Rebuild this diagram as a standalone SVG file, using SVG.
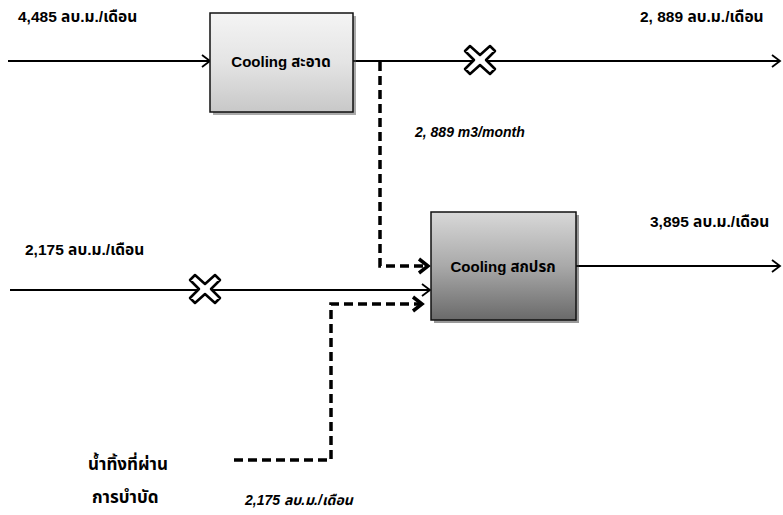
<svg xmlns="http://www.w3.org/2000/svg" width="783" height="515" viewBox="0 0 783 515">
<style>
text{font-family:"Liberation Sans","Noto Sans Thai","Noto Sans",sans-serif;font-weight:bold;font-size:15.5px;fill:#000}
.it{font-style:italic;font-size:14px}
.th{font-size:17px}
.bx{font-size:15px}
.solid{stroke:#000;stroke-width:1.8;fill:none}
.dash{stroke:#000;stroke-width:3.5;fill:none;stroke-dasharray:9 5}
.box{stroke:#111;stroke-width:1.5}
.xm{fill:#fff;stroke:#000;stroke-width:2.5;stroke-linejoin:round}
</style>
<defs>
<linearGradient id="g1" x1="0" y1="0" x2="0" y2="1">
<stop offset="0" stop-color="#f4f4f4"/><stop offset="0.5" stop-color="#e4e4e4"/><stop offset="1" stop-color="#c8c8c8"/>
</linearGradient>
<linearGradient id="g2" x1="0" y1="0" x2="0" y2="1">
<stop offset="0" stop-color="#d8d8d8"/><stop offset="0.5" stop-color="#a9a9a9"/><stop offset="1" stop-color="#6a6a6a"/>
</linearGradient>
<marker id="oa" markerWidth="12" markerHeight="14" refX="10" refY="7" orient="auto" markerUnits="userSpaceOnUse">
<path d="M2,1 L10,7 L2,13" fill="none" stroke="#000" stroke-width="1.8"/>
</marker>
<marker id="da" markerWidth="14" markerHeight="18" refX="11" refY="9" orient="auto" markerUnits="userSpaceOnUse">
<path d="M2,2 L11,9 L2,16" fill="none" stroke="#000" stroke-width="3.5"/>
</marker>
<path id="xs" d="M-10,-14 L0,-5 L10,-14 L15,-9 L6,0 L15,9 L10,14 L0,5 L-10,14 L-15,9 L-6,0 L-15,-9 Z"/>
</defs>

<g id="connectors">
<line class="solid" x1="8" y1="61" x2="210" y2="61" marker-end="url(#oa)"/>
<line class="solid" x1="353" y1="61" x2="780" y2="61" marker-end="url(#oa)"/>
<line class="solid" x1="10" y1="290" x2="430" y2="290" marker-end="url(#oa)"/>
<line class="solid" x1="576" y1="266" x2="780" y2="266" marker-end="url(#oa)"/>
<path class="dash" d="M380,62 L380,266 L428,266" marker-end="url(#da)"/>
<path class="dash" d="M234,460 L331,460 L331,304 L422,304" marker-end="url(#da)"/>
</g>

<g id="x1"><use href="#xs" class="xm" transform="translate(480,60)"/></g>
<g id="x2"><use href="#xs" class="xm" transform="translate(205,289)"/></g>

<g id="cooling-clean">
<rect x="213" y="16" width="143" height="99" fill="#555" opacity="0.5"/>
<rect class="box" x="210" y="13" width="143" height="99" fill="url(#g1)"/>
<text class="bx" x="281" y="67" text-anchor="middle">Cooling  สะอาด</text>
</g>

<g id="cooling-dirty">
<rect x="434" y="215" width="145" height="108" fill="#333" opacity="0.5"/>
<rect class="box" x="431" y="212" width="145" height="108" fill="url(#g2)"/>
<text class="bx" x="503" y="272" text-anchor="middle">Cooling  สกปรก</text>
</g>

<g id="labels">
<text x="18" y="22">4,485 ลบ.ม./เดือน</text>
<text x="640" y="22">2, 889 ลบ.ม./เดือน</text>
<text class="it" x="415" y="137">2, 889 m3/month</text>
<text x="25" y="255">2,175 ลบ.ม./เดือน</text>
<text x="650" y="227">3,895 ลบ.ม./เดือน</text>
<text class="th" x="88" y="470">น้ำทิ้งที่ผ่าน</text>
<text class="th" x="92" y="503">การบำบัด</text>
<text class="it" x="245" y="505">2,175 ลบ.ม./เดือน</text>
</g>
</svg>
